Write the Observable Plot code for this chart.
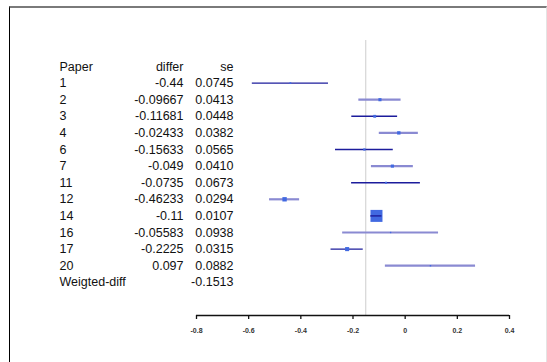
<!DOCTYPE html>
<html>
<head>
<meta charset="utf-8">
<script src="https://cdn.jsdelivr.net/npm/d3@7"></script>
<script src="https://cdn.jsdelivr.net/npm/@observablehq/plot@0.6"></script>
<style>
  html, body { margin: 0; padding: 0; background: #fff; }
  #wrap { position: relative; width: 547px; height: 362px; overflow: hidden; background: #fff; }
  #wrap svg { position: absolute; left: 0; top: 0; }
  #frame { position: absolute; left: 9px; top: 6px; width: 536px; height: 370px;
           border-top: 2px solid #7a7a7a; border-left: 1px solid #000; border-right: 1px solid #e4e4e4; }
</style>
</head>
<body>
<div id="wrap"><div id="frame"></div></div>
<script>
const papers = ["1","2","3","4","6","7","11","12","14","16","17","20"];
const differ = [-0.44, -0.09667, -0.11681, -0.02433, -0.15633, -0.049, -0.0735, -0.46233, -0.11, -0.05583, -0.2225, 0.097];
const se = [0.0745, 0.0413, 0.0448, 0.0382, 0.0565, 0.0410, 0.0673, 0.0294, 0.0107, 0.0938, 0.0315, 0.0882];
const headers = ["Paper", "differ", "se"];
const summaryLabel = "Weigted-diff";
const summaryValue = -0.1513;
const xTicks = [-0.8, -0.6, -0.4, -0.2, 0, 0.2, 0.4];

const z = 1.96;
const rows = papers.map((p, i) => ({
  paper: p,
  idx: i + 1,
  differ: differ[i],
  se: se[i],
  lo: differ[i] - z * se[i],
  hi: differ[i] + z * se[i],
  w: 1 / (se[i] * se[i]),
  dark: i % 2 === 0
}));
const summaryIdx = rows.length + 1;
const axisIdx = summaryIdx + 2;
const maxW = d3.max(rows, d => d.w);
const minSe = d3.min(se);

const colPaper = -137, colDiffer = -13, colSe = 37;

const chart = Plot.plot({
  width: 547,
  height: 362,
  marginLeft: 196,
  marginRight: 38,
  marginTop: 40,
  marginBottom: 47,
  style: { fontFamily: "'Liberation Sans', Arial, sans-serif", fontSize: "12px", color: "#111", background: "transparent" },
  x: { domain: [xTicks[0], xTicks[xTicks.length - 1]], axis: null },
  y: { domain: [0, axisIdx], range: [66, 315], axis: null },
  r: { type: "sqrt", domain: [0, maxW], range: [0, 12 / Math.sqrt(Math.PI)] },
  marks: [
    Plot.ruleX([summaryValue], { stroke: "#d9d9d9", strokeWidth: 1.3 }),
    Plot.ruleY(rows.filter(d => !d.dark), { y: "idx", x1: "lo", x2: "hi", stroke: "#8a8ad2", strokeWidth: 2.2 }),
    Plot.ruleY(rows.filter(d => d.dark), { y: "idx", x1: "lo", x2: "hi", stroke: "#1c1c9c", strokeWidth: 1.4 }),
    Plot.dot(rows, { x: "differ", y: "idx", r: "w", symbol: "square", fill: "#4169e1", stroke: "none" }),
    Plot.ruleY(rows.filter(d => d.se === minSe), { y: "idx", x1: "lo", x2: "hi", stroke: "#1c1c9c", strokeWidth: 1.4 }),
    Plot.ruleY([axisIdx], { x1: xTicks[0], x2: xTicks[xTicks.length - 1], stroke: "#111", strokeWidth: 1.5 }),
    Plot.axisX({ ticks: xTicks, tickFormat: d => String(+d.toFixed(1)), tickSize: 4, tickPadding: 9, fontSize: 7, fontWeight: "bold", fill: "#333", stroke: "#111", strokeWidth: 1.3 }),
    Plot.text([headers[0]], { y: [0], text: d => d, frameAnchor: "left", dx: colPaper, textAnchor: "start", fontSize: 12.5, fill: "#111" }),
    Plot.text([headers[1]], { y: [0], text: d => d, frameAnchor: "left", dx: colDiffer, textAnchor: "end", fontSize: 12.5, fill: "#111" }),
    Plot.text([headers[2]], { y: [0], text: d => d, frameAnchor: "left", dx: colSe, textAnchor: "end", fontSize: 12.5, fill: "#111" }),
    Plot.text(rows, { y: "idx", text: "paper", frameAnchor: "left", dx: colPaper, textAnchor: "start", fontSize: 12.5, fill: "#111" }),
    Plot.text(rows, { y: "idx", text: d => String(d.differ), frameAnchor: "left", dx: colDiffer, textAnchor: "end", fontSize: 12.5, fill: "#111" }),
    Plot.text(rows, { y: "idx", text: d => d.se.toFixed(4), frameAnchor: "left", dx: colSe, textAnchor: "end", fontSize: 12.5, fill: "#111" }),
    Plot.text([summaryLabel], { y: [summaryIdx], text: d => d, frameAnchor: "left", dx: colPaper, textAnchor: "start", fontSize: 12.5, fill: "#111" }),
    Plot.text([summaryValue], { y: [summaryIdx], text: d => String(d), frameAnchor: "left", dx: colSe, textAnchor: "end", fontSize: 12.5, fill: "#111" })
  ]
});
document.getElementById("wrap").prepend(chart);
</script>
</body>
</html>
